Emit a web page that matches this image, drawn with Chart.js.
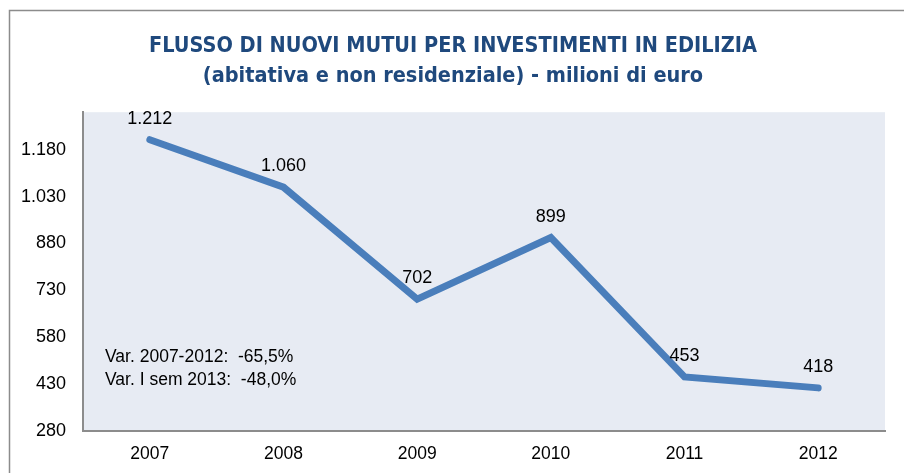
<!DOCTYPE html>
<html>
<head>
<meta charset="utf-8">
<script src="https://cdn.jsdelivr.net/npm/chart.js@4.4.1/dist/chart.umd.min.js"></script>
<style>
  html, body { margin: 0; padding: 0; background: #fff; }
  canvas { display: block; }
</style>
</head>
<body>
<canvas id="chart" width="904" height="473"></canvas>
<script>
// data
const years = ["2007", "2008", "2009", "2010", "2011", "2012"];
const mutui = [1212, 1060, 702, 899, 453, 418];
const yTicks = [280, 430, 580, 730, 880, 1030, 1180];
const titleLines = ["FLUSSO DI NUOVI MUTUI PER INVESTIMENTI IN EDILIZIA", "(abitativa e non residenziale) - milioni di euro"];
const noteLines = ["Var. 2007-2012:  -65,5%", "Var. I sem 2013:  -48,0%"];

// italian thousands separator
function fmt(n) {
  return String(n).replace(/\B(?=(\d{3})+(?!\d))/g, ".");
}

const extras = {
  id: "extras",
  beforeDraw(chart) {
    const ctx = chart.ctx;
    const a = chart.chartArea;
    ctx.save();
    // outer frame
    ctx.strokeStyle = "#8c8c8c";
    ctx.lineWidth = 1.5;
    ctx.beginPath();
    ctx.moveTo(9.5, 473);
    ctx.lineTo(9.5, 10.5);
    ctx.lineTo(904, 10.5);
    ctx.stroke();
    // plot background
    ctx.fillStyle = "#E7EBF3";
    ctx.fillRect(a.left, a.top, a.right - a.left, a.bottom - a.top);
    ctx.restore();
  },
  afterDatasetsDraw(chart) {
    const ctx = chart.ctx;
    const a = chart.chartArea;
    ctx.save();
    ctx.fillStyle = "#000";
    ctx.font = "18px 'Liberation Sans', Arial, sans-serif";
    ctx.textAlign = "center";
    ctx.textBaseline = "middle";
    chart.getDatasetMeta(0).data.forEach((p, i) => {
      ctx.fillText(fmt(mutui[i]), p.x, p.y - 21);
    });
    // notes
    ctx.textAlign = "left";
    ctx.font = "17.5px 'Liberation Sans', Arial, sans-serif";
    noteLines.forEach((t, i) => {
      ctx.fillText(t, a.left + 22, 357 + i * 23);
    });
    ctx.restore();
  }
};

new Chart(document.getElementById("chart"), {
  type: "line",
  data: {
    labels: years,
    datasets: [{
      data: mutui,
      borderColor: "#4A7EBB",
      borderWidth: 7,
      borderCapStyle: "round",
      borderJoinStyle: "miter",
      pointRadius: 0,
      pointHoverRadius: 0,
      tension: 0,
      fill: false
    }]
  },
  options: {
    responsive: false,
    animation: false,
    layout: { padding: { left: 21, right: 19, top: 31, bottom: -5 } },
    plugins: {
      legend: { display: false },
      tooltip: { enabled: false },
      title: {
        display: true,
        text: titleLines,
        color: "#1F497D",
        font: { family: "'Liberation Sans Narrow', 'DejaVu Sans Condensed', Arial, sans-serif", size: 21.5, weight: "bold", lineHeight: 1.4 },
        padding: { top: 0, bottom: 21 }
      }
    },
    scales: {
      x: {
        offset: true,
        grid: { display: false, drawTicks: false, tickLength: 0 },
        border: { display: true, color: "#8c8c8c", width: 2 },
        ticks: { color: "#000", font: { family: "'Liberation Sans', Arial, sans-serif", size: 17.5 }, padding: 13, maxRotation: 0 }
      },
      y: {
        min: 280,
        max: 1300,
        grid: { display: false, drawTicks: false, tickLength: 0 },
        border: { display: true, color: "#8c8c8c", width: 2 },
        afterBuildTicks(scale) {
          scale.ticks = yTicks.map(v => ({ value: v }));
        },
        afterFit(scale) {
          scale.width = 62;
        },
        ticks: {
          color: "#000",
          font: { family: "'Liberation Sans', Arial, sans-serif", size: 18 },
          padding: 17,
          callback: v => fmt(v)
        }
      }
    }
  },
  plugins: [extras]
});
</script>
</body>
</html>
